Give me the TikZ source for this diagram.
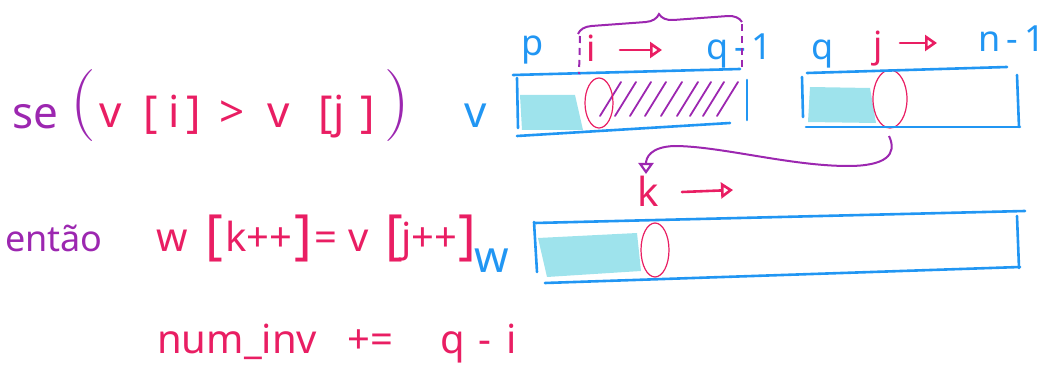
\documentclass[tikz,border=0pt]{standalone}
\usepackage{fontspec}
\setmainfont{Noto Sans}
\newfontfamily\lmfont{Latin Modern Roman}
\usetikzlibrary{arrows.meta,decorations.pathreplacing}
\definecolor{myblue}{RGB}{33,150,243}
\definecolor{mypink}{RGB}{233,30,99}
\definecolor{mypurple}{RGB}{156,39,176}
\definecolor{mycyan}{RGB}{158,227,236}
\tikzset{
  bl/.style={draw=myblue,line width=2.6pt,line cap=round},
  oval/.style={draw=mypink,line width=1.2pt},
  hatch/.style={draw=mypurple,line width=1.8pt,line cap=round},
  tx/.style={inner sep=0pt,anchor=base west},
  pk/.style={tx,text=mypink},
  bu/.style={tx,text=myblue},
  pu/.style={tx,text=mypurple},
  fa/.style={font=\fontsize{44}{50}\selectfont},
  fb/.style={font=\fontsize{36}{40}\selectfont},
  fc/.style={font=\fontsize{54}{60}\selectfont},
  fd/.style={font=\fontsize{40}{46}\selectfont},
  parn/.style={tx,text=mypurple,font=\lmfont\fontsize{72}{80}\selectfont},
  dsh/.style={draw=mypurple,line width=2pt,dash pattern=on 7pt off 5pt},
  parr/.style={draw=mypink,line width=2.6pt,line cap=round,-{Triangle[open,length=12pt,width=16pt,line width=2.6pt]}},
  purr/.style={draw=mypurple,line width=2pt,-{Triangle[open,length=11pt,width=15pt,line width=2.2pt]}},
}
\begin{document}
\begin{tikzpicture}[x=1pt,y=-1pt]
\useasboundingbox (0,0) rectangle (1045,379);
% condition line
\node[pu,fa] (se) at (12,129) {se};
\node[parn] (lp) at (70,124) {(};
\node[pk,fa] (c1) at (99,128) {v};
\node[pk,fa] (c2) at (143,128) {[};
\node[pk,fa] (c3) at (168,128) {i};
\node[pk,fa] (c4) at (186,128) {]};
\node[pk,fa] (c5) at (219,128) {>};
\node[pk,fa] (c6) at (267,128) {v};
\node[pk,fa] (c7) at (318,128) {[};
\node[pk,fa] (c8) at (333,128) {j};
\node[pk,fa] (c9) at (360,128) {]};
\node[parn] (rp) at (384,124) {)};
% array 1
\node[bu,fa] (vlab) at (464,128) {v};
\fill[mycyan] (520,95) -- (575,95) -- (583,130) -- (522,130) -- cycle;
\foreach \x in {600,615,630,645,661,677,690,703,717} \draw[hatch] (\x,116) -- (\x+21,82);
\draw[oval] (599,103) ellipse (14pt and 25pt);
\draw[bl] (513,75) -- (740,69);
\draw[bl] (517,136) -- (730,123);
\draw[bl] (517,78) -- (518,128);
\draw[bl] (747,80) -- (747,120);
% array 2
\fill[mycyan] (810,87) -- (870,88) -- (876,123) -- (808,122) -- cycle;
\draw[oval] (890,99) ellipse (17pt and 29pt);
\draw[bl] (807,73) -- (1007,67);
\draw[bl] (806,127) -- (1020,127);
\draw[bl] (802,77) -- (803,117);
\draw[bl] (1017,75) -- (1019,127);
% array 3
\fill[mycyan] (538,238) -- (637,233) -- (641,271) -- (547,277) -- cycle;
\draw[oval] (655,250) ellipse (14pt and 27pt);
\draw[bl] (535,223) -- (1025,211);
\draw[bl] (545,283) -- (1020,267);
\draw[bl] (534,222) -- (537,272);
\draw[bl] (1017,216) -- (1019,268);
% top labels
\node[bu,fb] (p) at (521,56) {p};
\node[pk,fb] (i) at (586,62) {i};
\coordinate (ia) at (620,50);
\coordinate (ib) at (662,50);
\draw[parr] (ia) -- (ib);
\node[bu,fb] (q1) at (706,60) {q\,-\,1};
\node[bu,fb] (q2) at (811,60) {q};
\node[pk,fb] (j) at (873,58) {j};
\coordinate (ja) at (900,43);
\coordinate (jb) at (937,43);
\draw[parr] (ja) -- (jb);
\node[bu,fb] (n1) at (978,52) {n\,-\,1};
% brace and dashed bounds
\draw[mypurple,line width=2pt,decorate,decoration={brace,amplitude=14pt}] (578,34) -- (742,22);
\draw[dsh] (580,36) -- (579,74);
\draw[dsh] (742,24) -- (742,70);
% k label and arrow
\node[pk,fd] (k) at (637,207) {k};
\coordinate (ka) at (682,192);
\coordinate (kb) at (733,190);
\draw[parr] (ka) -- (kb);
\coordinate (e2) at (889,136);
\draw[purr] (e2) .. controls (898,155) and (885,166) .. (848,166) .. controls (790,166) and (720,146) .. (674,146) .. controls (650,147) and (646,158) .. (646,174);
% second line
\node[pu,font=\fontsize{36}{40}\selectfont] (ent) at (5,252) {então};
\node[pk,fd] (a1) at (156,252) {w};
\node[pk,fc] (a2) at (205,254) {[};
\node[pk,fd] (a3) at (225,252) {k++};
\node[pk,fc] (a4) at (294,254) {]};
\node[pk,fd] (a5) at (314,252) {=};
\node[pk,fd] (a6) at (348,252) {v};
\node[pk,fc] (a7) at (385,254) {[};
\node[pk,fd] (a8) at (401,252) {j++};
\node[pk,fc] (a9) at (458,254) {]};
\node[bu,fa] (wlab) at (474,273) {w};
% third line
\node[pk,fd] (m1) at (157,354) {num\_inv};
\node[pk,fd] (m2) at (347,354) {+=};
\node[pk,fd] (m3) at (440,354) {q};
\node[pk,fd] (m4) at (478,354) {-};
\node[pk,fd] (m5) at (506,354) {i};
\end{tikzpicture}
\end{document}
